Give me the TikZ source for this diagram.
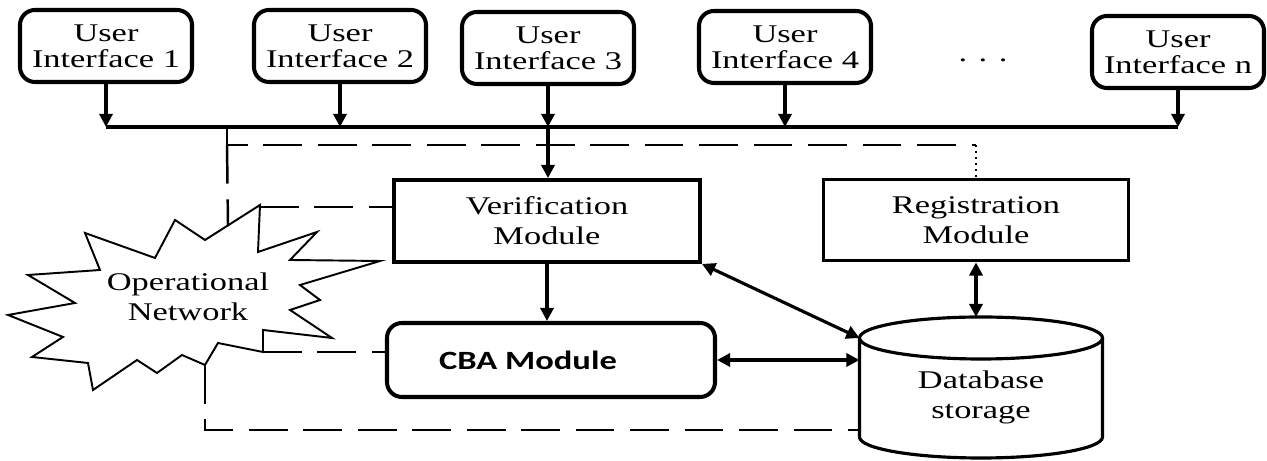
\documentclass[tikz,border=0pt]{standalone}
\usepackage{fontspec}
\setmainfont[FakeStretch=1.35]{Liberation Serif}
\newfontfamily\cbafont[FakeStretch=1.31]{Carlito}
\usetikzlibrary{arrows.meta,positioning}

\tikzset{
  ui/.style={draw,line width=2.3pt,rounded corners=0.3cm,minimum width=3.44cm,
    minimum height=1.44cm,inner sep=0pt,align=center,font=\fontsize{14.5}{14.8}\selectfont},
  module/.style={draw,line width=2.2pt,minimum width=6.1cm,minimum height=1.62cm,
    inner sep=0pt,align=center,font=\fontsize{14.5}{17}\selectfont},
  link/.style={line width=1.8pt},
  netlink/.style={line width=1.4pt,dash pattern=on 22pt off 9pt},
}

\begin{document}
\begin{tikzpicture}[>={Triangle[length=7.5pt,width=7.5pt]}]
    \useasboundingbox (0,0) rectangle (25.34,9.22);
    % user interfaces
    \node[ui] (ui1) at (2.12,8.30) {User\\Interface 1};
    \node[ui] (ui2) at (6.80,8.30) {User\\Interface 2};
    \node[ui] (ui3) at (10.96,8.26) {User\\Interface 3};
    \node[ui] (ui4) at (15.70,8.28) {User\\Interface 4};
    \node[font=\fontsize{14.5}{14.8}\selectfont] (dots) at (19.66,8.02) {. . .};
    \node[ui] (uin) at (23.56,8.18) {User\\Interface n};
    % bus
    \coordinate (busL) at (2.12,6.68);
    \coordinate (busR) at (23.56,6.68);
    \draw[link] (busL) -- (busR);
    \foreach \u in {ui1,ui2,ui3,ui4,uin}
        \draw[link,->] (\u.south) -- (\u.south |- busL);
    % modules
    \node[module,minimum width=6.12cm,minimum height=1.64cm] (verif) at (10.94,4.80) {Verification\\Module};
    \node[module] (reg) at (19.52,4.82) {Registration\\Module};
    \node[draw,line width=2.3pt,rounded corners=0.3cm,minimum width=6.56cm,minimum height=1.48cm,
        font=\cbafont\bfseries\fontsize{15}{17}\selectfont] (cba) at (11.02,2.02) {CBA Module\hspace*{0.92cm}};
    \draw[link,->] (ui3.south |- busL) -- (ui3.south |- verif.north);
    \draw[link,->] (verif.south) -- (verif.south |- cba.north);
    % database
    \coordinate (db) at (19.62,2.46);
    \coordinate (dbW) at (17.19,2.46);
    \coordinate (dbN) at (19.52,2.88);
    \draw[line width=1.8pt] (dbW) -- (17.19,0.48) arc[start angle=180,end angle=360,x radius=2.43,y radius=0.42] -- (22.05,2.46);
    \draw[line width=1.8pt] (db) ellipse [x radius=2.43,y radius=0.42];
    \node[align=center,font=\fontsize{14.5}{17}\selectfont] (dbtext) at (19.62,1.28) {Database\\storage};
    \draw[link,<->] (reg.south) -- (dbN);
    \draw[link,<->] (verif.south east) -- (dbW);
    \draw[link,<->] (cba.east) -- (cba.east -| dbW);
    % operational network
    \draw[line width=1.1pt] (5.20,5.12) -- (5.16,4.18) -- (6.34,4.58) -- (5.80,4.02) -- (7.60,4.00)
        -- (6.00,3.52) -- (6.40,3.22) -- (5.80,3.02) -- (6.64,2.46) -- (5.26,2.62) -- (5.26,2.18)
        -- (4.36,2.36) -- (4.10,1.92) -- (3.64,2.12) -- (3.14,1.76) -- (2.74,2.02) -- (1.86,1.42)
        -- (1.76,1.96) -- (0.64,2.08) -- (1.26,2.48) -- (0.16,2.92) -- (1.50,3.16) -- (0.56,3.72)
        -- (2.00,3.82) -- (1.70,4.56) -- (3.10,4.06) -- (3.50,4.82) -- (4.10,4.42) -- cycle;
    \node[align=center,font=\fontsize{14.5}{17}\selectfont] (net) at (3.76,3.28) {Operational\\Network};
    \coordinate (netN) at (5.20,5.08);
    \coordinate (netNW) at (4.56,4.72);
    \coordinate (netE) at (5.26,2.18);
    \coordinate (netS) at (4.10,1.92);
    % dashed links to the network
    \coordinate (tap) at (4.54,6.32);
    \coordinate (drop) at (4.10,0.62);
    \draw[netlink] (tap |- busL) -- (tap) -- (tap -| reg.north);
    \draw[line width=1.4pt,dotted] (tap -| reg.north) -- (reg.north);
    \draw[netlink] (tap) -- (netNW);
    \draw[netlink] (netN) -- (netN -| verif.west);
    \draw[netlink] (netE) -- (netE -| cba.west);
    \draw[netlink] (netS) -- (drop) -- (drop -| dbW);
\end{tikzpicture}
\end{document}
